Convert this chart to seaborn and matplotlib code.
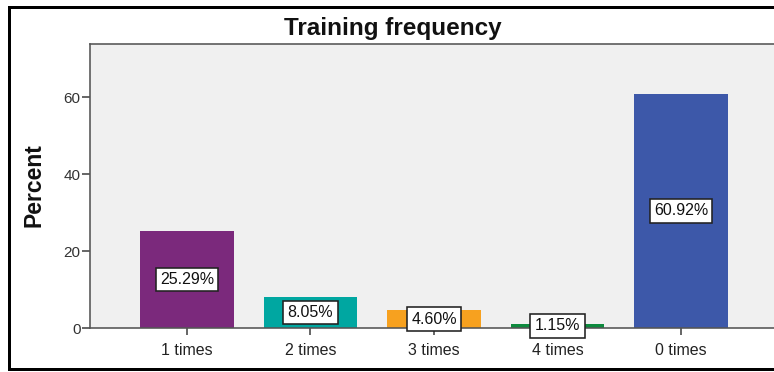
import matplotlib
matplotlib.use("Agg")
import matplotlib.pyplot as plt
from matplotlib.patches import Rectangle
import seaborn as sns
import pandas as pd

# Chart data
categories = ["1 times", "2 times", "3 times", "4 times", "0 times"]
percent = [25.29, 8.05, 4.60, 1.15, 60.92]
bar_colors = ["#7B297C", "#00A7A1", "#F7A11F", "#0D8A3E", "#3D58A9"]
y_ticks = [0, 20, 40, 60]

sns.set_theme(style="white")
plt.rcParams["font.family"] = ["Liberation Sans", "DejaVu Sans"]

W, H, DPI = 774, 372, 100
fig = plt.figure(figsize=(W / DPI, H / DPI), dpi=DPI)
fig.patch.set_facecolor("white")
fig.patch.set_linewidth(0)

px = 72.0 / DPI  # points per pixel

# plot area in pixel coordinates (right edge runs past the canvas)
left, right, top, bottom = 90, 778, 44, 328
ax = fig.add_axes([left / W, (H - bottom) / H, (right - left) / W, (bottom - top) / H])
ax.set_facecolor("#F0F0F0")

df = pd.DataFrame({"category": categories, "percent": percent})
sns.barplot(data=df, x="category", y="percent", hue="category",
            palette=bar_colors, order=categories, width=0.76,
            saturation=1, legend=False, ax=ax, edgecolor="none")

ax.set_xlim(-0.785, len(categories) - 1 + 0.785)
ax.set_ylim(0, 73.8)
ax.set_yticks(y_ticks)
ax.set_yticklabels([str(t) for t in y_ticks])

for side in ["left", "top", "bottom"]:
    ax.spines[side].set_color("#555555")
    ax.spines[side].set_linewidth(1.6 * px)
ax.spines["right"].set_visible(False)

ax.tick_params(axis="y", direction="out", length=8 * px, width=1.6 * px,
               color="#444444", labelsize=11, labelcolor="#333333", pad=1, left=True)
ax.tick_params(axis="x", direction="out", length=7 * px, width=1.6 * px,
               color="#444444", labelsize=11.5, labelcolor="#222222", pad=6, bottom=True)

ax.set_xlabel("")
ax.set_ylabel("")

# value labels in boxes at half bar height
for i, v in enumerate(percent):
    ax.text(i, v / 2, f"{v:.2f}%", ha="center", va="center", fontsize=11.5,
            color="#111111",
            bbox=dict(boxstyle="square,pad=0.27", facecolor="white",
                      edgecolor="#222222", linewidth=1.6 * px))

fig.text(393 / W, 1 - 28 / H, "Training frequency", ha="center", va="center",
         fontsize=17.5, fontweight="bold", color="#111111")
fig.text(34 / W, 1 - 185 / H, "Percent", ha="center", va="center",
         rotation=90, fontsize=16.5, fontweight="bold", color="#111111")


def bar_px(x0, y0, x1, y1):
    """Solid black strip given in pixel coordinates (y measured from the top)."""
    fig.add_artist(Rectangle((x0 / W, 1 - y1 / H), (x1 - x0) / W, (y1 - y0) / H,
                             transform=fig.transFigure, facecolor="black",
                             edgecolor="none", linewidth=0))


# outer frame: top, left and bottom edges (right edge lies off the canvas)
bar_px(8, 5.5, W, 8.5)
bar_px(8, 5.5, 11, 371)
bar_px(8, 368, W, 371)

fig.savefig("out.png", dpi=DPI, facecolor="white")
